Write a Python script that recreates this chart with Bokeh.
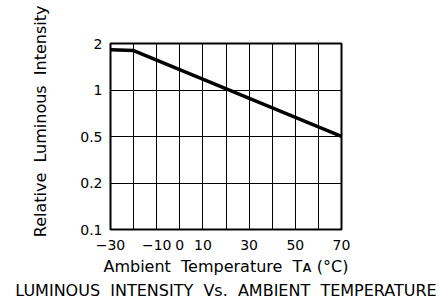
import numpy as np
from bokeh.plotting import figure
from bokeh.models import Range1d, FixedTicker, Title
from bokeh.embed import file_html
from bokeh.resources import INLINE

# data
temps = [-30, -20, 70]
intensity = [1.82, 1.80, 0.5]
y_tick_values = [0.1, 0.2, 0.5, 1, 2]
y_tick_labels = ["0.1", "0.2", "0.5", "1", "2"]
x_tick_values = [-30, -10, 0, 10, 30, 50, 70]
x_tick_labels = ["\u221230", "\u221210", "0", "10", "30", "50", "70"]
x_grid_values = [-30, -20, -10, 0, 10, 20, 30, 40, 50, 60, 70]

FONT = "DejaVu Sans"
NB = "\u00a0"

# chart's y scale: equally spaced ticks (piecewise log between ticks)
pos = list(range(len(y_tick_values)))
def ymap(v):
    return np.interp(np.log10(v), np.log10(y_tick_values), pos)

p = figure(width=447, height=302, output_backend="svg", toolbar_location=None,
           x_range=Range1d(-30, 70), y_range=Range1d(0, 4),
           min_border_left=110, min_border_right=106, min_border_top=43, min_border_bottom=10)
p.frame_width = 231
p.frame_height = 186

p.background_fill_color = "white"
p.border_fill_color = "white"
p.outline_line_color = "black"
p.outline_line_width = 2

p.yaxis.ticker = FixedTicker(ticks=pos)
p.yaxis.major_label_overrides = dict(zip(pos, y_tick_labels))
p.yaxis.axis_line_color = None
p.yaxis.major_tick_line_color = None
p.yaxis.minor_tick_line_color = None
p.yaxis.major_tick_out = 0
p.yaxis.major_tick_in = 0
p.yaxis.major_label_standoff = 8
p.yaxis.major_label_text_font = FONT
p.yaxis.major_label_text_font_size = "14px"
p.yaxis.major_label_text_color = "black"

p.ygrid.ticker = FixedTicker(ticks=pos)
p.ygrid.grid_line_color = "black"
p.ygrid.grid_line_width = 1

p.xaxis.ticker = FixedTicker(ticks=x_tick_values)
p.xaxis.major_label_overrides = dict(zip(x_tick_values, x_tick_labels))
p.xgrid.ticker = FixedTicker(ticks=x_grid_values)
p.xgrid.grid_line_color = "black"
p.xgrid.grid_line_width = 1
p.xaxis.axis_line_color = None
p.xaxis.major_tick_line_color = None
p.xaxis.minor_tick_line_color = None
p.xaxis.major_tick_out = 0
p.xaxis.major_tick_in = 0
p.xaxis.major_label_standoff = 10
p.xaxis.major_label_text_font = FONT
p.xaxis.major_label_text_font_size = "14px"
p.xaxis.major_label_text_color = "black"
p.xaxis.axis_label = "Ambient" + NB + " Temperature" + NB + " T\u1d00 (\u00b0C)"
p.xaxis.axis_label_text_font = FONT
p.xaxis.axis_label_text_font_style = "normal"
p.xaxis.axis_label_text_font_size = "16px"
p.xaxis.axis_label_text_color = "black"
p.xaxis.axis_label_standoff = 4

p.add_layout(Title(text="Relative" + NB + " Luminous" + NB + " Intensity", align="right",
                   offset=-38, standoff=56,
                   text_font=FONT, text_font_size="16px", text_font_style="normal",
                   text_color="black"), "left")

p.add_layout(Title(text="LUMINOUS" + NB + " INTENSITY" + NB + " Vs." + NB + " AMBIENT" + NB + " TEMPERATURE",
                   align="center", text_font=FONT, text_font_size="16px",
                   text_font_style="normal", text_color="black", standoff=0), "below")

p.line(temps, ymap(intensity), line_color="black", line_width=3.5)

open("out.html", "w").write(file_html(p, INLINE))
